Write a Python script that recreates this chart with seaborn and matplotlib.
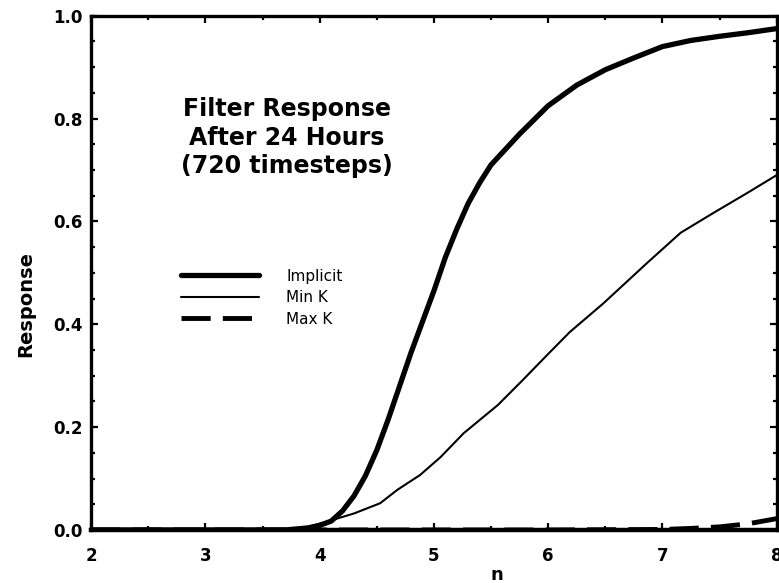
import matplotlib
matplotlib.use("Agg")
import matplotlib.pyplot as plt
import seaborn as sns
import pandas as pd
from matplotlib.ticker import MultipleLocator

# ---- data ----
n_implicit = [2.0, 3.0, 3.7, 3.9, 4.0, 4.1, 4.2, 4.3, 4.4, 4.5, 4.6, 4.7, 4.8, 4.9, 5.0,
              5.1, 5.2, 5.3, 5.4, 5.5, 5.75, 6.0, 6.25, 6.5, 6.75, 7.0, 7.25, 7.5, 7.75, 8.0]
implicit = [0.0, 0.0, 0.0, 0.004, 0.009, 0.017, 0.037, 0.066, 0.105, 0.155, 0.215, 0.28, 0.345, 0.405, 0.465,
            0.53, 0.585, 0.635, 0.675, 0.71, 0.77, 0.825, 0.865, 0.895, 0.918, 0.94, 0.952, 0.96, 0.967, 0.975]

n_mink = [2.0, 3.0, 3.7, 3.9, 4.0, 4.12, 4.3, 4.53, 4.68, 4.88, 5.06, 5.26, 5.56, 5.78, 5.99,
          6.19, 6.48, 6.87, 7.16, 7.45, 7.74, 8.0]
mink = [0.0, 0.0, 0.0, 0.006, 0.012, 0.02, 0.032, 0.052, 0.078, 0.107, 0.142, 0.188, 0.243, 0.292, 0.34,
        0.385, 0.44, 0.52, 0.578, 0.617, 0.655, 0.69]

n_maxk = [2.0, 3.0, 4.0, 5.0, 6.0, 7.0, 7.25, 7.5, 7.75, 8.0]
maxk = [0.0, 0.0, 0.0, 0.0, 0.0, 0.001, 0.003, 0.006, 0.012, 0.022]

labels = ["Implicit", "Min K", "Max K"]
x_ticks = [2, 3, 4, 5, 6, 7, 8]
y_ticks = [0.0, 0.2, 0.4, 0.6, 0.8, 1.0]

sns.set_theme(style="ticks")
plt.rcParams["font.family"] = ["DejaVu Sans"]
plt.rcParams["text.color"] = "black"
plt.rcParams["axes.labelcolor"] = "black"
plt.rcParams["xtick.color"] = "black"
plt.rcParams["ytick.color"] = "black"

fig = plt.figure(figsize=(7.79, 5.83), dpi=100)
ax = fig.add_axes([0.117, 0.091, 0.880, 0.882])

df_i = pd.DataFrame({"n": n_implicit, "Response": implicit})
df_min = pd.DataFrame({"n": n_mink, "Response": mink})
df_max = pd.DataFrame({"n": n_maxk, "Response": maxk})

sns.lineplot(data=df_i, x="n", y="Response", ax=ax, color="black", linewidth=3.8, label=labels[0])
sns.lineplot(data=df_min, x="n", y="Response", ax=ax, color="black", linewidth=1.5, label=labels[1])
sns.lineplot(data=df_max, x="n", y="Response", ax=ax, color="black", linewidth=3.5,
             linestyle=(0, (6, 2.5)), label=labels[2])

ax.set_xlim(2, 8)
ax.set_ylim(0, 1.0)
ax.set_xticks(x_ticks)
ax.set_yticks(y_ticks)
ax.set_xticklabels([str(t) for t in x_ticks])
ax.set_yticklabels([f"{t:.1f}" for t in y_ticks])
ax.xaxis.set_minor_locator(MultipleLocator(0.5))
ax.yaxis.set_minor_locator(MultipleLocator(0.05))

for side in ["left", "right", "top", "bottom"]:
    ax.spines[side].set_visible(True)
    ax.spines[side].set_linewidth(2.4)
    ax.spines[side].set_color("black")
ax.spines["bottom"].set_linewidth(3.2)

ax.tick_params(which="both", direction="in", top=True, right=True, color="black", width=1.6)
ax.tick_params(which="major", length=5, labelsize=12, labelcolor="black")
ax.tick_params(which="minor", length=3)
ax.tick_params(axis="y", which="major", pad=6)
ax.tick_params(axis="x", which="major", pad=12)
for lab in ax.get_xticklabels() + ax.get_yticklabels():
    lab.set_fontweight("bold")

ax.set_xlabel("n", fontsize=13, fontweight="bold", color="black")
ax.set_ylabel("Response", fontsize=14, fontweight="bold", color="black")
ax.xaxis.set_label_coords(0.592, -0.07)
ax.yaxis.set_label_coords(-0.082, 0.44)

ax.text(0.285, 0.763, "Filter Response\nAfter 24 Hours\n(720 timesteps)", transform=ax.transAxes,
        ha="center", va="center", fontsize=17, fontweight="bold", linespacing=1.25, color="black")

leg = ax.legend(loc="upper left", bbox_to_anchor=(0.122, 0.52), frameon=False, fontsize=11,
                handlelength=5.1, handletextpad=1.8, labelspacing=0.42, borderaxespad=0)
for t in leg.get_texts():
    t.set_color("black")

fig.savefig("out.png", dpi=100, facecolor="white")
